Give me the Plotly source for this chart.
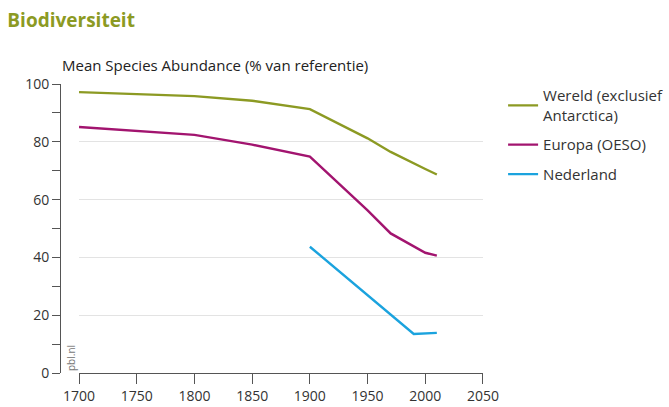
import plotly.graph_objects as go

years_wereld = [1700, 1800, 1850, 1900, 1950, 1970, 2000, 2010]
msa_wereld = [97.2, 95.8, 94.2, 91.3, 81.2, 76.5, 70.6, 68.7]

years_europa = [1700, 1800, 1850, 1900, 1950, 1970, 2000, 2010]
msa_europa = [85.1, 82.4, 79.0, 74.9, 56.3, 48.3, 41.6, 40.6]

years_nl = [1900, 1950, 1990, 2010]
msa_nl = [43.7, 27.0, 13.5, 13.9]

names = ["Wereld (exclusief<br>Antarctica)", "Europa (OESO)", "Nederland"]
colors = ["#8c9a23", "#a2146f", "#1ba3de"]

x_ticks = [1700, 1750, 1800, 1850, 1900, 1950, 2000, 2050]
y_ticks = [0, 20, 40, 60, 80, 100]

FONT = "Open Sans"

fig = go.Figure()
for i, (xs, ys, n, c) in enumerate(zip([years_wereld, years_europa, years_nl],
                                       [msa_wereld, msa_europa, msa_nl], names, colors)):
    fig.add_trace(go.Scatter(x=xs, y=ys, mode="lines", name=n, legendgroup=f"g{i}",
                             line=dict(color=c, width=2.4)))

fig.update_layout(
    width=669, height=407,
    margin=dict(l=60, r=186, t=84, b=34, autoexpand=False),
    paper_bgcolor="white", plot_bgcolor="white",
    font=dict(family=FONT, size=14, color="#333333"),
    title=dict(text="<b>Biodiversiteit</b>", x=0.011, xanchor="left",
               y=0.95, yanchor="middle", xref="container", yref="container",
               font=dict(family=FONT, size=19, color="#8c9a23")),
    showlegend=True,
    legend=dict(xref="container", yref="container", x=0.752, xanchor="left",
                y=0.805, yanchor="top", traceorder="grouped", tracegroupgap=7,
                font=dict(family=FONT, size=15, color="#333333"),
                bgcolor="rgba(0,0,0,0)", itemwidth=30),
    xaxis=dict(range=[1700, 2050], domain=[0.045, 1], tickvals=x_ticks,
               showline=True, linecolor="#555555", linewidth=1,
               ticks="outside", ticklen=10, tickcolor="#555555",
               showgrid=False, zeroline=False, fixedrange=True, automargin=False),
    yaxis=dict(range=[0, 100], tickvals=y_ticks, anchor="free", position=0,
               showline=True, linecolor="#555555", linewidth=1,
               ticks="outside", ticklen=8, tickcolor="#555555",
               minor=dict(dtick=10, ticks="outside", ticklen=8, tickcolor="#555555", showgrid=False),
               showgrid=True, gridcolor="#e3e3e3", gridwidth=1,
               zeroline=False, fixedrange=True, automargin=False),
    annotations=[
        dict(text="Mean Species Abundance (% van referentie)", xref="paper", yref="paper",
             x=0.0, y=1.025, xanchor="left", yanchor="bottom", showarrow=False,
             font=dict(family=FONT, size=15, color="#222222")),
        dict(text="pbl.nl", xref="paper", yref="paper", x=0.026, y=0.0,
             xanchor="center", yanchor="bottom", textangle=-90, showarrow=False,
             font=dict(family=FONT, size=10, color="#777777")),
    ],
)

fig.write_html("out.html", config={"displayModeBar": False},
               post_script="document.body.style.margin='0';")
